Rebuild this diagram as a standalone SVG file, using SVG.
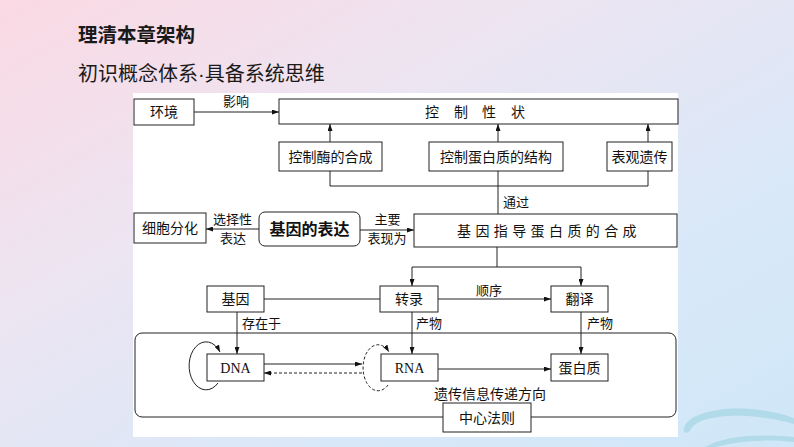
<svg xmlns="http://www.w3.org/2000/svg" width="794" height="447" viewBox="0 0 794 447">
<defs>
<linearGradient id="bg" x1="0" y1="0" x2="1" y2="1">
<stop offset="0" stop-color="#fad9e3"/>
<stop offset="0.35" stop-color="#ede5f2"/>
<stop offset="0.7" stop-color="#d9e8f8"/>
<stop offset="1" stop-color="#cfe7f8"/>
</linearGradient>
<marker id="ah" viewBox="0 0 7 5" refX="7" refY="2.5" markerWidth="7" markerHeight="5" markerUnits="userSpaceOnUse" orient="auto">
<path d="M0,0 L7,2.5 L0,5 z" fill="#111"/>
</marker>
<style>
.box{fill:#fff;stroke:#222;stroke-width:1}
.t{font-family:"Noto Sans CJK SC","Noto Sans",sans-serif;font-size:14px;fill:#111;text-anchor:middle}
.lbl{font-size:13px}
.en{font-family:"Liberation Serif",serif;font-size:14px}
.ln{fill:none;stroke:#222;stroke-width:1}
.arr{marker-end:url(#ah)}
.dash{stroke-dasharray:3 2}
.wave{fill:#b2dbea}
</style>
</defs>
<rect width="794" height="447" fill="url(#bg)"/>
<path class="wave" d="M684,428 C688,414 720,405 760,410 C775,412 785,415 794,418 L794,424 C780,420 765,417 745,416 C715,415 697,420 691,429 C689,434 682,434 684,428 z"/>
<path class="wave" d="M705,447 C722,437 752,433 794,437 L794,442 C762,439 737,441 716,447 z"/>
<text x="78" y="42" style="font-family:'Noto Sans CJK SC',sans-serif;font-size:19.5px;font-weight:bold;fill:#1a1a1a">理清本章架构</text>
<text x="78" y="81" style="font-family:'Noto Sans CJK SC',sans-serif;font-size:20px;fill:#1a1a1a">初识概念体系<tspan style="font-family:'Liberation Sans',sans-serif">·</tspan>具备系统思维</text>
<rect x="133" y="93" width="545" height="344" fill="#fff"/>

<g id="connectors">
<path class="ln arr" d="M194,112 H279"/>
<path class="ln arr" d="M330,142 V124"/>
<path class="ln arr" d="M498,142 V124"/>
<path class="ln arr" d="M648,142 V124"/>
<path class="ln" d="M330,171 V186 H648 V171"/>
<path class="ln" d="M498,171 V214"/>
<path class="ln arr" d="M259,229 H206"/>
<path class="ln arr" d="M360,230 H414"/>
<path class="ln" d="M497,247 V267"/>
<path class="ln" d="M412,267 H581"/>
<path class="ln arr" d="M412,267 V286"/>
<path class="ln arr" d="M581,267 V286"/>
<path class="ln" d="M264,299 H380"/>
<path class="ln arr" d="M438,299 H551"/>
<path class="ln arr" d="M237,312 V354"/>
<path class="ln arr" d="M412,312 V354"/>
<path class="ln arr" d="M581,312 V354"/>
<path class="ln arr" d="M264,364 H362"/>
<path class="ln arr dash" d="M362,373 H264"/>
<path class="ln arr" d="M438,369 H551"/>
<path class="ln arr" d="M218,383 A17,24 0 1 1 220,352"/>
<path class="ln arr dash" d="M388,385 A15,23 0 1 1 389,352"/>
<text class="t lbl" x="236" y="106">影响</text>
<text class="t lbl" x="516" y="207">通过</text>
<text class="t lbl" x="232.5" y="224">选择性</text>
<text class="t lbl" x="233" y="243">表达</text>
<text class="t lbl" x="387.5" y="224">主要</text>
<text class="t lbl" x="387" y="243">表现为</text>
<text class="t lbl" x="489" y="295">顺序</text>
<text class="t lbl" x="261.5" y="328">存在于</text>
<text class="t lbl" x="429" y="328">产物</text>
<text class="t lbl" x="600" y="328">产物</text>
<text class="t" x="490" y="399">遗传信息传递方向</text>
</g>

<g id="central-frame"><rect x="135" y="333" width="541" height="84" rx="7" class="ln"/></g>
<g id="n-env"><rect class="box" x="134" y="99" width="60" height="26"/><text class="t" x="164" y="117">环境</text></g>
<g id="n-trait"><rect class="box" x="279" y="99" width="399" height="25"/><text class="t" style="text-anchor:start" x="425 454 482 511" y="116.5">控制性状</text></g>
<g id="n-enzyme"><rect class="box" x="279" y="142" width="103" height="29"/><text class="t" x="330.5" y="161.5">控制酶的合成</text></g>
<g id="n-struct"><rect class="box" x="429" y="142" width="134" height="29"/><text class="t" x="496" y="161.5">控制蛋白质的结构</text></g>
<g id="n-epi"><rect class="box" x="607" y="142" width="65" height="29"/><text class="t" x="639.5" y="161.5">表观遗传</text></g>
<g id="n-diff"><rect class="box" x="134" y="213" width="72" height="30"/><text class="t" x="170" y="233">细胞分化</text></g>
<g id="n-expr"><rect class="box" x="259" y="212" width="101" height="34" rx="6"/><text class="t" x="309.5" y="235" style="font-size:16px;font-weight:bold">基因的表达</text></g>
<g id="n-synth"><rect class="box" x="414" y="214" width="263" height="33"/><text class="t" style="text-anchor:start" x="457 475.4 493.8 512.2 530.6 549 567.4 585.8 604.2 622.6" y="235.5">基因指导蛋白质的合成</text></g>
<g id="n-gene"><rect class="box" x="207" y="286" width="57" height="26"/><text class="t" x="235.5" y="304">基因</text></g>
<g id="n-transcr"><rect class="box" x="380" y="286" width="58" height="26"/><text class="t" x="409" y="304">转录</text></g>
<g id="n-transl"><rect class="box" x="551" y="286" width="57" height="26"/><text class="t" x="579.5" y="304">翻译</text></g>
<g id="n-dna"><rect class="box" x="207" y="354" width="57" height="27"/><text class="t en" x="235.5" y="372.5">DNA</text></g>
<g id="n-rna"><rect class="box" x="381" y="354" width="57" height="27"/><text class="t en" x="409.5" y="372.5">RNA</text></g>
<g id="n-protein"><rect class="box" x="551" y="354" width="57" height="27"/><text class="t" x="579.5" y="372.5">蛋白质</text></g>
<g id="n-dogma"><rect class="box" x="443" y="403" width="88" height="29"/><text class="t" x="487" y="422.5">中心法则</text></g>
</svg>
